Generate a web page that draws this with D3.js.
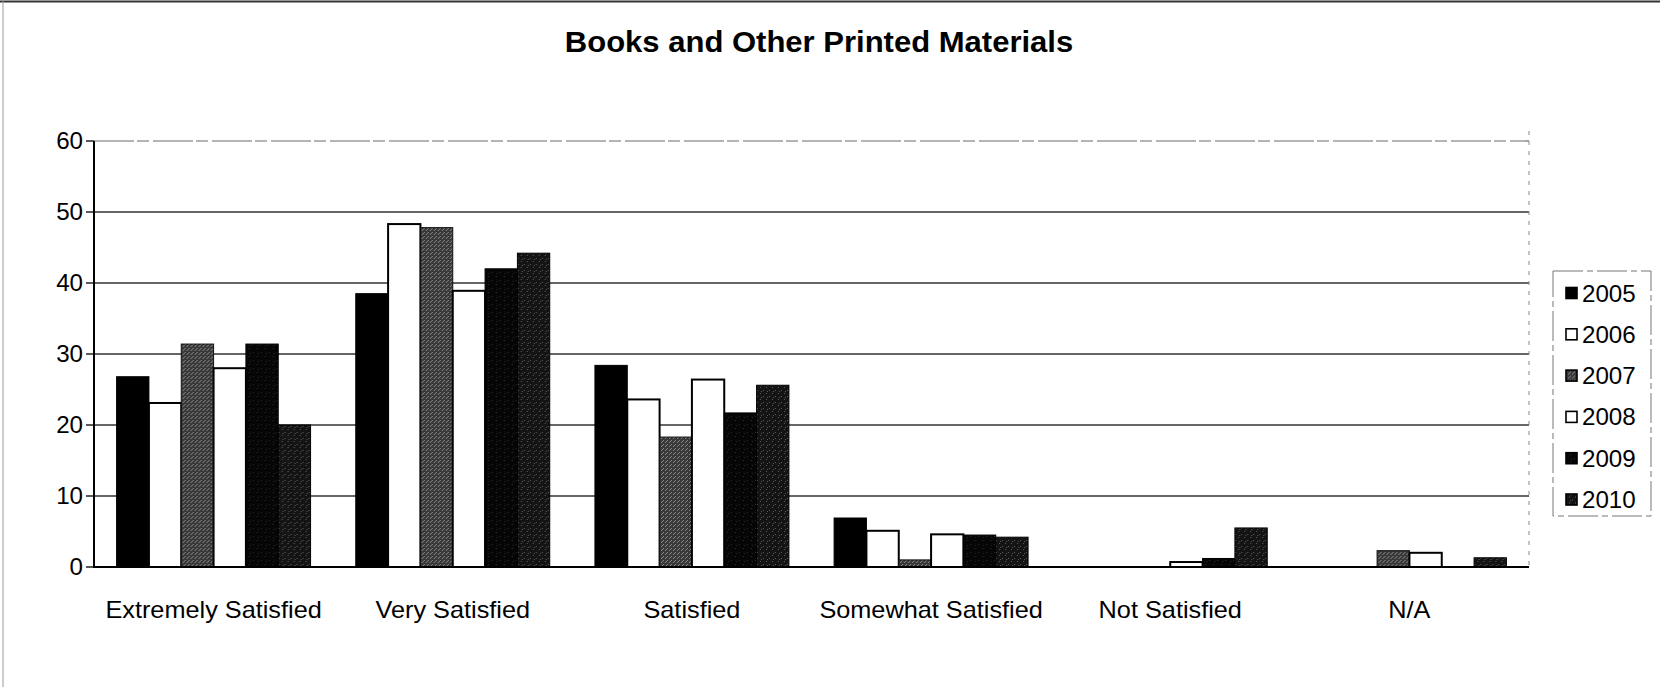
<!DOCTYPE html>
<html>
<head>
<meta charset="utf-8">
<script src="https://cdn.jsdelivr.net/npm/d3@7"></script>
<style>
  html, body { margin: 0; padding: 0; background: #fff; }
  svg { display: block; }
  text { font-family: "Liberation Sans", Arial, sans-serif; fill: #000; }
</style>
</head>
<body>
<svg id="chart" width="1660" height="687"></svg>
<script>
// ---- data ----
const title = "Books and Other Printed Materials";
const categories = ["Extremely Satisfied", "Very Satisfied", "Satisfied", "Somewhat Satisfied", "Not Satisfied", "N/A"];
const seriesNames = ["2005", "2006", "2007", "2008", "2009", "2010"];
const v2005 = [26.8, 38.5, 28.4, 6.9, 0, 0];
const v2006 = [23.1, 48.3, 23.6, 5.1, 0, 0];
const v2007 = [31.4, 47.8, 18.3, 1.0, 0, 2.3];
const v2008 = [28.0, 38.9, 26.4, 4.6, 0.7, 2.0];
const v2009 = [31.4, 42.0, 21.7, 4.5, 1.2, 0];
const v2010 = [20.0, 44.2, 25.6, 4.2, 5.5, 1.3];
const yTicks = [0, 10, 20, 30, 40, 50, 60];

const seriesValues = [v2005, v2006, v2007, v2008, v2009, v2010];
const strokes = ["#000", "#000", "#111", "#000", "#000", "#000"];

// ---- layout ----
const plot = { left: 94, right: 1529, top: 141, bottom: 567 };
const svg = d3.select("#chart");

// speckle texture patterns (fixed, deterministic)
const defs = svg.append("defs");
function speckle(id, base, dot, spacing) {
  const p = defs.append("pattern").attr("id", id).attr("patternUnits", "userSpaceOnUse")
    .attr("width", spacing * 2).attr("height", spacing * 2);
  p.append("rect").attr("width", spacing * 2).attr("height", spacing * 2).attr("fill", base);
  p.append("rect").attr("x", 0).attr("y", 0).attr("width", 1).attr("height", 1).attr("fill", dot);
  p.append("rect").attr("x", spacing).attr("y", spacing).attr("width", 1).attr("height", 1).attr("fill", dot);
  p.append("rect").attr("x", spacing + 1).attr("y", 1).attr("width", 1).attr("height", 1).attr("fill", dot);
}
speckle("p2007", "#383838", "#8c8c8c", 2);
speckle("p2009", "#060606", "#2e2e2e", 4);
speckle("p2010", "#141414", "#5e5e5e", 3);
const fillRef = ["#000", "#fff", "url(#p2007)", "#fff", "url(#p2009)", "url(#p2010)"];

const x0 = d3.scaleBand().domain(categories).range([plot.left, plot.right])
  .paddingInner(0.189).paddingOuter(0.0945);
const x1 = d3.scaleBand().domain(seriesNames).range([0, x0.bandwidth()]).padding(0);
const y = d3.scaleLinear().domain([0, 60]).range([plot.bottom, plot.top]);

// chart border
svg.append("line").attr("x1", 0).attr("x2", 1660).attr("y1", 1.5).attr("y2", 1.5)
  .attr("stroke", "#333").attr("stroke-width", 2);
svg.append("line").attr("x1", 3).attr("x2", 3).attr("y1", 0).attr("y2", 687)
  .attr("stroke", "#999").attr("stroke-width", 1);

// title
svg.append("text")
  .attr("transform", "translate(819,52) scale(1.07,1)")
  .attr("text-anchor", "middle")
  .style("font-size", "29px").style("font-weight", "bold")
  .text(title);

// gridlines
svg.append("g").selectAll("line").data(yTicks.filter(d => d > 0)).join("line")
  .attr("x1", plot.left).attr("x2", plot.right)
  .attr("y1", d => y(d)).attr("y2", d => y(d))
  .attr("stroke", (d) => d === 60 ? "#6a6a6a" : "#333")
  .attr("stroke-width", d => d === 60 ? 1.2 : 1.3)
  .attr("stroke-dasharray", d => d === 60 ? "40,3,12,4" : null);

// right plot edge (faint dashed)
svg.append("line").attr("x1", plot.right).attr("x2", plot.right)
  .attr("y1", plot.top - 10).attr("y2", plot.bottom)
  .attr("stroke", "#888").attr("stroke-width", 1).attr("stroke-dasharray", "4,6");

// bars
const groups = svg.append("g").selectAll("g").data(categories).join("g")
  .attr("transform", d => `translate(${x0(d)},0)`);
groups.selectAll("rect")
  .data((c, ci) => seriesNames.map((s, si) => ({ s, si, v: seriesValues[si][ci] })))
  .join("rect")
  .attr("x", d => x1(d.s))
  .attr("y", d => y(d.v))
  .attr("width", x1.bandwidth())
  .attr("height", d => Math.max(0, y(0) - y(d.v)))
  .attr("fill", d => fillRef[d.si])
  .attr("stroke", d => strokes[d.si])
  .attr("stroke-width", d => (d.si === 1 || d.si === 3) ? 2 : 1)
  .style("display", d => d.v > 0 ? null : "none");

// y axis
svg.append("line").attr("x1", plot.left).attr("x2", plot.left)
  .attr("y1", plot.top).attr("y2", plot.bottom + 1)
  .attr("stroke", "#000").attr("stroke-width", 2);
svg.append("g").selectAll("line").data(yTicks).join("line")
  .attr("x1", plot.left - 8).attr("x2", plot.left)
  .attr("y1", d => y(d)).attr("y2", d => y(d))
  .attr("stroke", "#000").attr("stroke-width", 1.3);
svg.append("g").selectAll("text").data(yTicks).join("text")
  .attr("transform", d => `translate(83,${y(d) + 8}) scale(1.05,1)`)
  .attr("text-anchor", "end")
  .style("font-size", "23px")
  .text(d => d);

// x axis baseline
svg.append("line").attr("x1", plot.left).attr("x2", plot.right)
  .attr("y1", plot.bottom).attr("y2", plot.bottom)
  .attr("stroke", "#000").attr("stroke-width", 2);

// category labels
svg.append("g").selectAll("text").data(categories).join("text")
  .attr("transform", d => `translate(${x0(d) + x0.bandwidth() / 2},618) scale(1.1,1)`)
  .attr("text-anchor", "middle")
  .style("font-size", "23px")
  .text(d => d);

// legend
const lg = svg.append("g");
lg.append("rect").attr("x", 1553).attr("y", 271).attr("width", 98).attr("height", 245)
  .attr("fill", "none").attr("stroke", "#777").attr("stroke-width", 1)
  .attr("stroke-dasharray", "30,4,6,4");
const items = lg.selectAll("g").data(seriesNames).join("g")
  .attr("transform", (d, i) => `translate(1566,${293 + i * 41.3})`);
items.append("rect").attr("x", 0).attr("y", -5.5).attr("width", 11).attr("height", 11)
  .attr("fill", (d, i) => fillRef[i]).attr("stroke", "#000").attr("stroke-width", 1.6);
items.append("text")
  .attr("transform", "translate(16,8.5) scale(1.05,1)")
  .style("font-size", "23px")
  .text(d => d);
</script>
</body>
</html>
